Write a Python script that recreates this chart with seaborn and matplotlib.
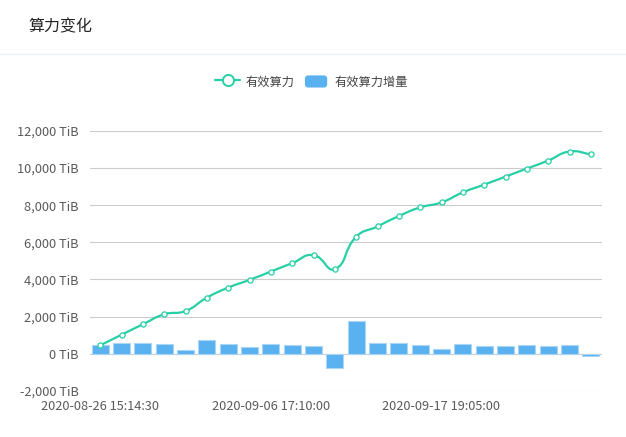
import numpy as np
import pandas as pd
import matplotlib
matplotlib.use("Agg")
import matplotlib.pyplot as plt
import seaborn as sns
from matplotlib.path import Path
from matplotlib.patches import PathPatch, FancyBboxPatch
from matplotlib.lines import Line2D
from matplotlib.legend_handler import HandlerPatch
from matplotlib.ticker import FuncFormatter, FixedLocator

# ---------------- data ----------------
title = "算力变化"
series_line = "有效算力"
series_bar = "有效算力增量"
effective_power = [443, 1016, 1578, 2119, 2297, 3016, 3557, 3973, 4422, 4876,
                   5308, 4551, 6297, 6854, 7416, 7881, 8151, 8692, 9108, 9541,
                   9973, 10405, 10892, 10746]
power_increment = [443, 568, 568, 531, 171, 748, 514, 369, 495, 443,
                   405, -766, 1741, 568, 568, 459, 261, 531, 423, 423,
                   459, 423, 477, -135]
tick_positions = [0, 8, 16]
tick_labels = ["2020-08-26 15:14:30", "2020-09-06 17:10:00", "2020-09-17 19:05:00"]
y_ticks = [-2000, 0, 2000, 4000, 6000, 8000, 10000, 12000]

LINE_C = "#27cfa6"
BAR_C = "#5ab1ef"
BAR_EDGE = "#a9d5f6"
GRID_C = "#cccccc"
TEXT_C = "#5a5a5a"

sns.set_theme(style="white")
plt.rcParams["font.family"] = ["Noto Sans CJK SC", "DejaVu Sans"]
plt.rcParams["axes.unicode_minus"] = False

W, H = 626, 437
fig = plt.figure(figsize=(W / 100, H / 100), dpi=100)
fig.patch.set_facecolor("white")

left, right, top, bottom = 89.5, 601.5, 131.0, 390.7
ax = fig.add_axes([left / W, 1 - bottom / H, (right - left) / W, (bottom - top) / H])
ax.set_facecolor("white")

n = len(effective_power)
idx = list(range(n))
df = pd.DataFrame({"idx": idx, "power": effective_power, "inc": power_increment})

sns.barplot(data=df, x="idx", y="inc", color=BAR_C, saturation=1, width=0.8,
            edgecolor=BAR_EDGE, linewidth=0.8, ax=ax, zorder=2)

ax.set_xlim(-0.5, n - 0.5)
ax.set_ylim(-2000, 12000)
ax.yaxis.set_major_locator(FixedLocator(y_ticks))
ax.yaxis.set_major_formatter(FuncFormatter(lambda v, p: f"{v:,.0f} TiB"))
ax.set_xticks(tick_positions)
ax.set_xticklabels(tick_labels)
ax.grid(axis="y", color=GRID_C, linewidth=0.8, zorder=0)
ax.grid(axis="x", visible=False)
ax.set_axisbelow(True)
for s in ax.spines.values():
    s.set_visible(False)
ax.tick_params(axis="both", length=0, labelsize=9.2, colors=TEXT_C)
ax.tick_params(axis="y", pad=8)
ax.tick_params(axis="x", pad=7)
ax.set_xlabel("")
ax.set_ylabel("")

# smooth line (echarts-like bezier) in display space
fig.canvas.draw()
pts = ax.transData.transform(np.column_stack([idx, effective_power]))
smooth = 0.5
cps_in, cps_out = [], []
for i in range(n):
    cur = pts[i]
    prev = pts[i - 1] if i > 0 else cur
    nxt = pts[i + 1] if i < n - 1 else cur
    v = (nxt - prev) * smooth
    d0 = np.hypot(*(cur - prev))
    d1 = np.hypot(*(nxt - cur))
    s = d0 + d1
    if s > 0:
        d0 /= s
        d1 /= s
    cps_in.append(cur - v * d0)
    cps_out.append(cur + v * d1)
verts = [pts[0]]
codes = [Path.MOVETO]
for i in range(n - 1):
    verts += [cps_out[i], cps_in[i + 1], pts[i + 1]]
    codes += [Path.CURVE4] * 3
verts = ax.transData.inverted().transform(np.array(verts))
ax.add_patch(PathPatch(Path(verts, codes), facecolor="none", edgecolor=LINE_C,
                       linewidth=1.6, zorder=4, capstyle="round", joinstyle="round"))

sns.scatterplot(data=df, x="idx", y="power", marker="o", s=14, color="white",
                edgecolor=LINE_C, linewidth=0.9, ax=ax, zorder=5, legend=False)
ax.set_xlim(-0.5, n - 0.5)
ax.set_xlabel("")
ax.set_ylabel("")

# title and separator
fig.text(28 / W, 1 - 27 / H, title, fontsize=11.5, color="#222222", va="center", ha="left")
fig.add_artist(Line2D([0, 1], [1 - 54 / H, 1 - 54 / H], color="#eef1f5", linewidth=1,
                      transform=fig.transFigure))


# legend
class RoundHandler(HandlerPatch):
    def create_artists(self, legend, orig_handle, xdescent, ydescent, width, height, fontsize, trans):
        p = FancyBboxPatch((-xdescent + 1, -ydescent), width - 2, height,
                           boxstyle="round,pad=0,rounding_size=2.5",
                           facecolor=orig_handle.get_facecolor(), edgecolor="none",
                           transform=trans)
        return [p]


line_h = Line2D([], [], color=LINE_C, linewidth=1.6, marker="o", markersize=8,
                markerfacecolor="white", markeredgecolor=LINE_C, markeredgewidth=1.4)
bar_h = FancyBboxPatch((0, 0), 1, 1, facecolor=BAR_C)
leg = fig.legend([line_h, bar_h], [series_line, series_bar], loc="center",
                 bbox_to_anchor=(311.5 / W, 1 - 82 / H), ncol=2, frameon=False,
                 fontsize=8.8, handlelength=2.05, handleheight=1.15, handletextpad=0.45,
                 columnspacing=0.7, labelcolor="#444444",
                 handler_map={FancyBboxPatch: RoundHandler()})

fig.savefig("out.png", dpi=100, facecolor="white")
